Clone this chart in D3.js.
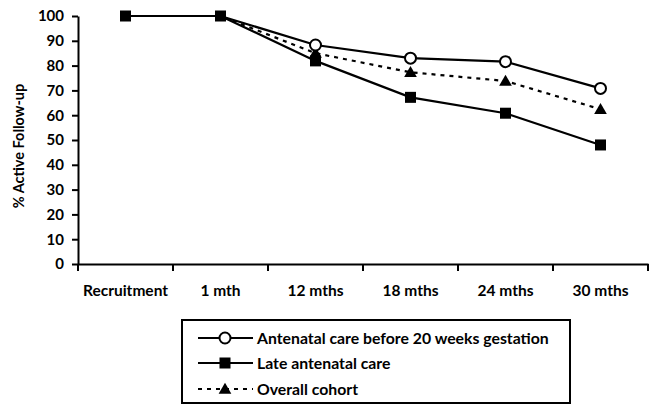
<!DOCTYPE html>
<html><head><meta charset="utf-8">
<script src="https://cdn.jsdelivr.net/npm/d3@7"></script>
<style>body{margin:0;background:#fff}svg{display:block}text{font-family:Lato,"Open Sans",sans-serif;font-weight:bold;fill:#000}</style>
</head><body>
<svg id="c" width="650" height="405"></svg>
<script>
const categories = ["Recruitment","1 mth","12 mths","18 mths","24 mths","30 mths"];
const early = [100,100,88.3,83,81.6,70.8];
const late = [100,100,81.9,67.2,60.8,48];
const overall = [100,100,85,77.3,73.8,62.4];
const yTicks = [0,10,20,30,40,50,60,70,80,90,100];
const seriesNames = ["Antenatal care before 20 weeks gestation","Late antenatal care","Overall cohort"];

const svg = d3.select("#c");
const x = d3.scaleBand().domain(categories).range([78,648]);
const y = d3.scaleLinear().domain([0,100]).range([264,16]);

// y axis
const ya = svg.append("g").attr("transform","translate(78,0)")
  .call(d3.axisLeft(y).tickValues(yTicks).tickSize(6).tickSizeOuter(0));
ya.select(".domain").attr("stroke","#000").attr("stroke-width",2);
ya.selectAll(".tick line").attr("stroke","#000").attr("stroke-width",2);
ya.selectAll(".tick text").attr("font-size",15).attr("x",-14).style("font-family","Lato,sans-serif").style("font-weight","bold");

// x axis
const xa = svg.append("g").attr("transform","translate(0,264)")
  .call(d3.axisBottom(x).tickSize(0).tickSizeOuter(0));
xa.select(".domain").attr("stroke","#000").attr("stroke-width",2);
xa.selectAll(".tick text").attr("font-size",15.5).attr("dy",0).attr("y",32).style("font-family","Lato,sans-serif").style("font-weight","bold");
// category boundary ticks
const bounds = categories.map(c=>x(c)).concat([x.range()[1]]);
svg.append("g").selectAll("line").data(bounds).join("line")
  .attr("x1",d=>d).attr("x2",d=>d).attr("y1",264).attr("y2",271)
  .attr("stroke","#000").attr("stroke-width",2);

svg.append("text").attr("transform","translate(24,146) rotate(-90)")
  .attr("text-anchor","middle").attr("font-size",14.5).text("% Active Follow-up");

const cx = c => x(c)+x.bandwidth()/2;
const line = d3.line().x((d,i)=>cx(categories[i])).y(d=>y(d));

const series = [
  {vals:early, dash:null, marker:"circle"},
  {vals:late, dash:null, marker:"square"},
  {vals:overall, dash:"4,5", marker:"triangle"}
];

function drawMarker(g, type, px, py){
  if(type==="circle") g.append("circle").attr("cx",px).attr("cy",py).attr("r",5.5).attr("fill","#fff").attr("stroke","#000").attr("stroke-width",2);
  else if(type==="square") g.append("rect").attr("x",px-5.5).attr("y",py-5.5).attr("width",11).attr("height",11).attr("fill","#000");
  else g.append("path").attr("d",d3.symbol(d3.symbolTriangle,70)()).attr("transform",`translate(${px},${py+1})`).attr("fill","#000");
}

// draw lines
series.forEach(s=>{
  svg.append("path").datum(s.vals).attr("d",line).attr("fill","none")
    .attr("stroke","#000").attr("stroke-width",2.2).attr("stroke-dasharray",s.dash);
});
// markers: triangle, square, then circle on top
[series[2],series[1],series[0]].forEach(s=>{
  const g = svg.append("g");
  s.vals.forEach((v,i)=>{
    if(i<2 && s.marker!=="square") return;
    drawMarker(g,s.marker,cx(categories[i]),y(v));
  });
});

// legend
const lg = svg.append("g");
lg.append("rect").attr("x",182).attr("y",320).attr("width",388).attr("height",83)
  .attr("fill","#fff").attr("stroke","#000").attr("stroke-width",2);
const rowsY = [338,363,389];
series.forEach((s,i)=>{
  const yy = rowsY[i];
  lg.append("line").attr("x1",198).attr("x2",253).attr("y1",yy).attr("y2",yy)
    .attr("stroke","#000").attr("stroke-width",2.2).attr("stroke-dasharray",s.dash);
  drawMarker(lg,s.marker,225,yy);
  lg.append("text").attr("x",257).attr("y",yy).attr("dy","0.35em").attr("font-size",15.8).text(seriesNames[i]);
});
</script>
</body></html>
